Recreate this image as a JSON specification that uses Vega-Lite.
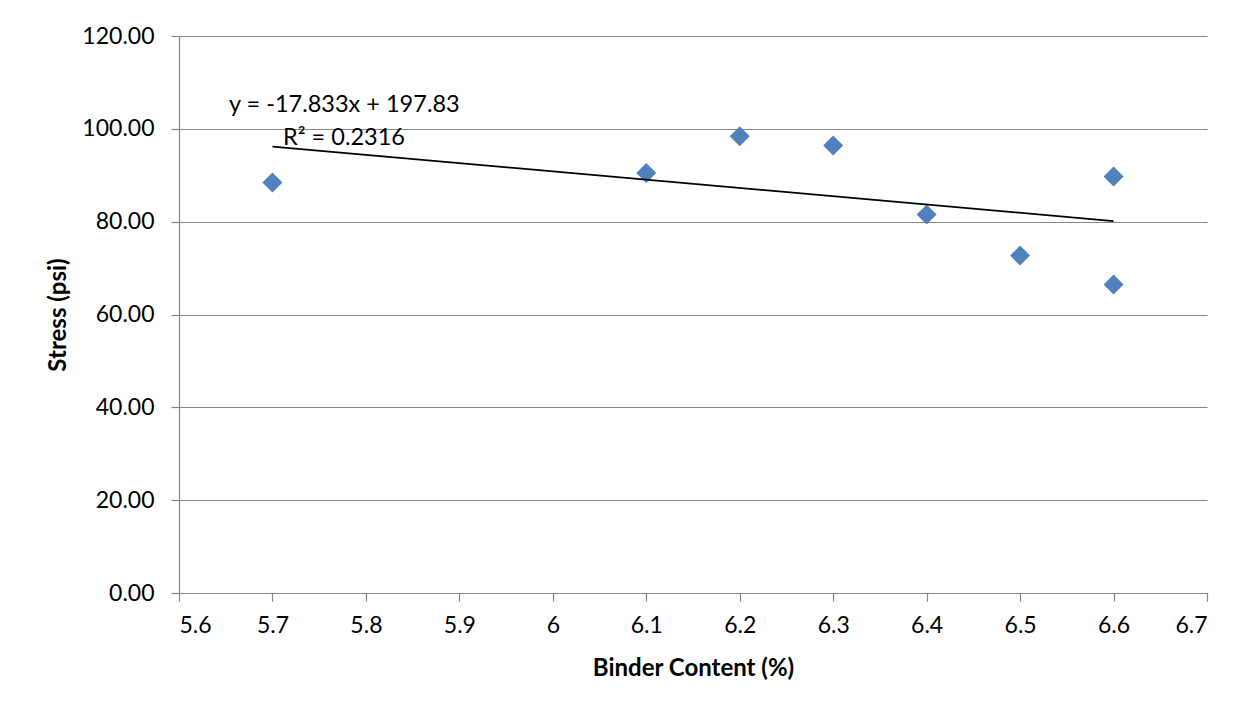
{
  "$schema": "https://vega.github.io/schema/vega-lite/v6.json",
  "width": 1028,
  "height": 557,
  "autosize": {"type": "none"},
  "padding": {"left": 179, "top": 36, "right": 45, "bottom": 120},
  "background": "white",
  "config": {
    "font": "Lato",
    "view": {"stroke": null},
    "axis": {
      "domainColor": "#868686",
      "tickColor": "#868686",
      "gridColor": "#868686",
      "domainWidth": 1.2,
      "tickWidth": 1.2,
      "gridWidth": 1.2,
      "tickSize": 8,
      "labelFont": "Lato",
      "labelFontSize": 23,
      "labelColor": "#000000",
      "titleFont": "Lato",
      "titleFontSize": 24,
      "titleFontWeight": "bold",
      "titleColor": "#000000"
    }
  },
  "datasets": {
    "samples": [
      {"binder": 5.7, "stress": 88.45},
      {"binder": 6.1, "stress": 90.5},
      {"binder": 6.2, "stress": 98.4},
      {"binder": 6.3, "stress": 96.4},
      {"binder": 6.4, "stress": 81.55},
      {"binder": 6.5, "stress": 72.7},
      {"binder": 6.6, "stress": 89.75},
      {"binder": 6.6, "stress": 66.45}
    ],
    "trend": [
      {"binder": 5.7, "stress": 96.182},
      {"binder": 6.6, "stress": 80.132}
    ],
    "equation": [
      {"line": "y = -17.833x + 197.83"}
    ],
    "fit": [
      {"line": "R² = 0.2316"}
    ]
  },
  "layer": [
    {
      "data": {"name": "samples"},
      "mark": {"type": "point", "shape": "diamond", "filled": true, "size": 400, "color": "#4F81BD", "opacity": 1},
      "encoding": {
        "x": {
          "field": "binder",
          "type": "quantitative",
          "scale": {"domain": [5.6, 6.7], "nice": false, "zero": false},
          "axis": {
            "title": "Binder Content (%)",
            "values": [5.6, 5.7, 5.8, 5.9, 6, 6.1, 6.2, 6.3, 6.4, 6.5, 6.6, 6.7],
            "format": "~g",
            "grid": false,
            "labelPadding": 13,
            "titlePadding": 19
          }
        },
        "y": {
          "field": "stress",
          "type": "quantitative",
          "scale": {"domain": [0, 120], "nice": false, "zero": true},
          "axis": {
            "title": "Stress (psi)",
            "values": [0, 20, 40, 60, 80, 100, 120],
            "format": ".2f",
            "grid": true,
            "labelPadding": 17,
            "titlePadding": 11
          }
        }
      }
    },
    {
      "data": {"name": "trend"},
      "mark": {"type": "line", "color": "#000000", "strokeWidth": 1.8},
      "encoding": {
        "x": {"field": "binder", "type": "quantitative"},
        "y": {"field": "stress", "type": "quantitative"}
      }
    },
    {
      "data": {"name": "equation"},
      "mark": {"type": "text", "align": "left", "baseline": "alphabetic", "fontSize": 23.5, "color": "#000000"},
      "encoding": {
        "x": {"datum": 5.6535, "type": "quantitative"},
        "y": {"datum": 103.55, "type": "quantitative"},
        "text": {"field": "line"}
      }
    },
    {
      "data": {"name": "fit"},
      "mark": {"type": "text", "align": "left", "baseline": "alphabetic", "fontSize": 23.5, "color": "#000000"},
      "encoding": {
        "x": {"datum": 5.7113, "type": "quantitative"},
        "y": {"datum": 96.5, "type": "quantitative"},
        "text": {"field": "line"}
      }
    }
  ]
}
